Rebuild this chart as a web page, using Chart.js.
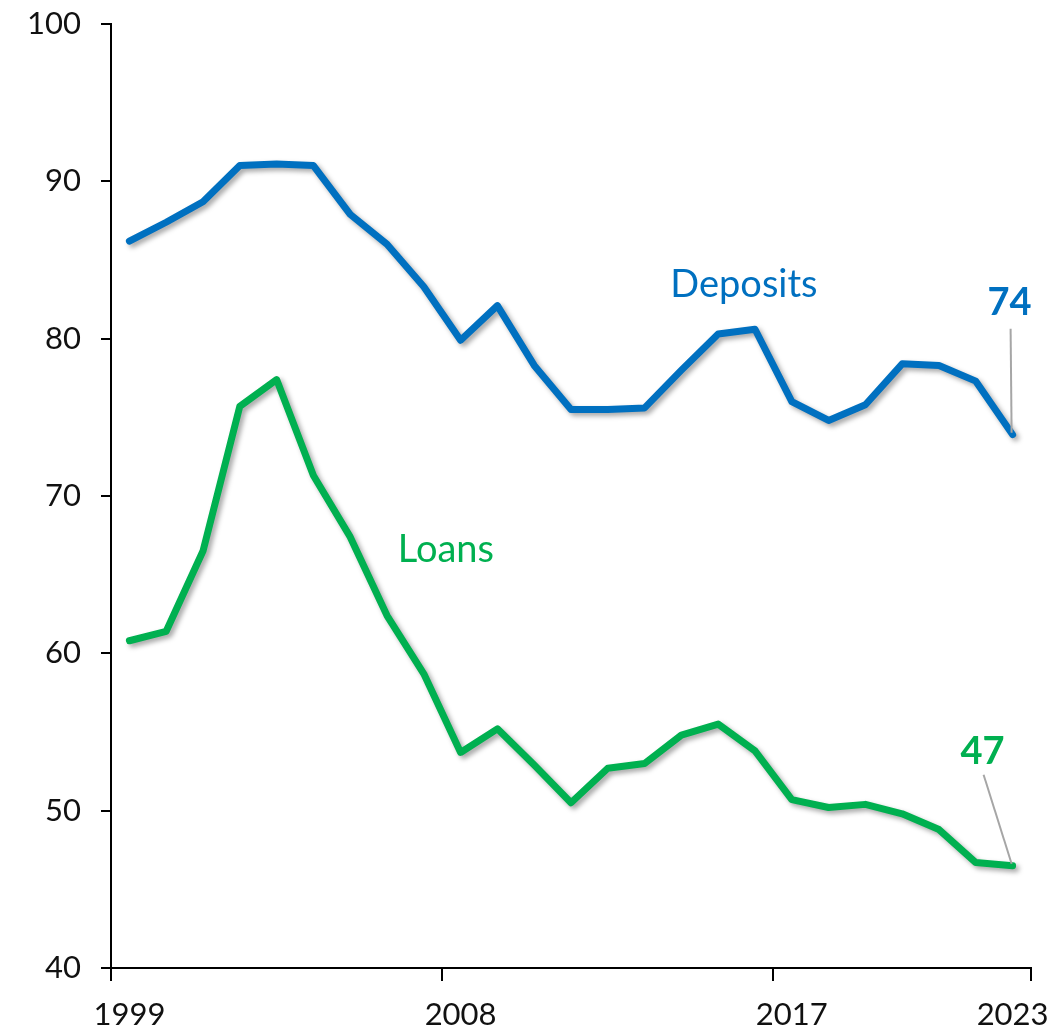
<!DOCTYPE html>
<html>
<head>
<meta charset="utf-8">
<script src="https://cdn.jsdelivr.net/npm/chart.js@4.4.1/dist/chart.umd.min.js"></script>
<style>
    html, body { margin: 0; padding: 0; background: #fff; }
    #wrap { position: relative; width: 1061px; height: 1027px; }
</style>
</head>
<body>
<div id="wrap"><canvas id="ratios"></canvas></div>
<script>
var years = [1999, 2000, 2001, 2002, 2003, 2004, 2005, 2006, 2007, 2008, 2009, 2010, 2011,
             2012, 2013, 2014, 2015, 2016, 2017, 2018, 2019, 2020, 2021, 2022, 2023];
var deposits = [86.2, 87.4, 88.7, 91.0, 91.1, 91.0, 87.9, 86.0, 83.3, 79.9, 82.1, 78.3, 75.5,
                75.5, 75.6, 78.0, 80.3, 80.6, 76.0, 74.8, 75.8, 78.4, 78.3, 77.3, 73.9];
var loans = [60.8, 61.4, 66.5, 75.7, 77.4, 71.3, 67.4, 62.4, 58.7, 53.7, 55.2, 52.9, 50.5,
             52.7, 53.0, 54.8, 55.5, 53.8, 50.7, 50.2, 50.4, 49.8, 48.8, 46.7, 46.5];
var tickYears = [1999, 2008, 2017, 2023];
var yTicks = [40, 50, 60, 70, 80, 90, 100];

const BLUE = '#0070C0';
const GREEN = '#00B050';
const INK = '#111111';
const FONT = 'Lato, "DejaVu Sans", sans-serif';

// soft drop shadow under both lines
const lineShadow = {
    id: 'lineShadow',
    beforeDatasetsDraw: function (chart) {
        const c = chart.ctx;
        c.save();
        c.shadowColor = 'rgba(0,0,0,0.35)';
        c.shadowBlur = 5;
        c.shadowOffsetX = 3;
        c.shadowOffsetY = 3;
    },
    afterDatasetsDraw: function (chart) {
        chart.ctx.restore();
    }
};

// series names and end-value callouts
const seriesLabels = {
    id: 'seriesLabels',
    afterDatasetsDraw: function (chart, args, opts) {
        const ctx = chart.ctx;
        const x = chart.scales.x, y = chart.scales.y;
        ctx.save();
        ctx.textAlign = 'center';
        ctx.textBaseline = 'middle';

        opts.names.forEach(function (n) {
            ctx.fillStyle = n.color;
            ctx.font = '38px ' + FONT;
            ctx.fillText(n.text, x.getPixelForValue(n.at[0]), y.getPixelForValue(n.at[1]));
        });

        opts.ends.forEach(function (e) {
            const data = chart.data.datasets[e.dataset].data;
            const last = data.length - 1;
            const px = x.getPixelForValue(last);
            const py = y.getPixelForValue(data[last]);
            ctx.strokeStyle = '#a6a6a6';
            ctx.lineWidth = 2;
            ctx.beginPath();
            ctx.moveTo(px + e.line[0], py + e.line[1]);
            ctx.lineTo(px - 1, py - 2);
            ctx.stroke();
            ctx.fillStyle = e.color;
            ctx.font = 'bold 38px ' + FONT;
            ctx.fillText(Math.round(data[last]), px + e.text[0], py + e.text[1]);
        });
        ctx.restore();
    }
};

const config = {
    type: 'line',
    data: {
        labels: years,
        datasets: [
            {
                label: 'Deposits',
                data: deposits,
                borderColor: BLUE,
                backgroundColor: BLUE
            },
            {
                label: 'Loans',
                data: loans,
                borderColor: GREEN,
                backgroundColor: GREEN
            }
        ]
    },
    options: {
        responsive: true,
        maintainAspectRatio: false,
        animation: false,
        layout: {
            padding: {top: 24, right: 30, left: 0, bottom: 0}
        },
        elements: {
            line: {
                borderWidth: 7,
                tension: 0,
                borderCapStyle: 'round',
                borderJoinStyle: 'round'
            },
            point: {
                radius: 0,
                hoverRadius: 0
            }
        },
        scales: {
            x: {
                type: 'category',
                offset: true,
                afterFit: function (scale) {
                    scale.height = 59;
                    scale.paddingLeft = 0;
                    scale.paddingRight = 0;
                },
                border: {color: '#000', width: 2},
                grid: {
                    offset: true,
                    drawOnChartArea: false,
                    drawTicks: true,
                    tickLength: 13,
                    lineWidth: 2,
                    color: function (context) {
                        if (context.tick === undefined) {
                            return '#000'; // closing mark at the right end
                        }
                        const yr = years[context.index];
                        if (tickYears.indexOf(yr) >= 0 && context.index !== years.length - 1) {
                            return '#000';
                        }
                        return 'rgba(0,0,0,0)';
                    }
                },
                ticks: {
                    autoSkip: false,
                    maxRotation: 0,
                    padding: 15,
                    color: INK,
                    font: {family: FONT, size: 31},
                    callback: function (value, index) {
                        return tickYears.indexOf(years[index]) >= 0 ? String(years[index]) : '';
                    }
                }
            },
            y: {
                min: yTicks[0],
                max: yTicks[yTicks.length - 1],
                afterFit: function (scale) {
                    scale.width = 111;
                    scale.paddingTop = 0;
                    scale.paddingBottom = 0;
                },
                afterBuildTicks: function (scale) {
                    scale.ticks = yTicks.map(function (v) { return {value: v}; });
                },
                border: {color: '#000', width: 2},
                grid: {
                    drawOnChartArea: false,
                    drawTicks: true,
                    tickLength: 10,
                    lineWidth: 2,
                    color: '#000'
                },
                ticks: {
                    padding: 20,
                    color: INK,
                    font: {family: FONT, size: 31}
                }
            }
        },
        plugins: {
            legend: {display: false},
            tooltip: {enabled: false},
            seriesLabels: {
                names: [
                    {text: 'Deposits', color: BLUE, at: [16.7, 83.4]},
                    {text: 'Loans', color: GREEN, at: [8.6, 66.6]}
                ],
                ends: [
                    {dataset: 0, color: BLUE, text: [-3, -132], line: [-2, -106]},
                    {dataset: 1, color: GREEN, text: [-30, -114], line: [-29, -91]}
                ]
            }
        }
    },
    plugins: [lineShadow, seriesLabels]
};

new Chart(document.getElementById('ratios'), config);
</script>
</body>
</html>
